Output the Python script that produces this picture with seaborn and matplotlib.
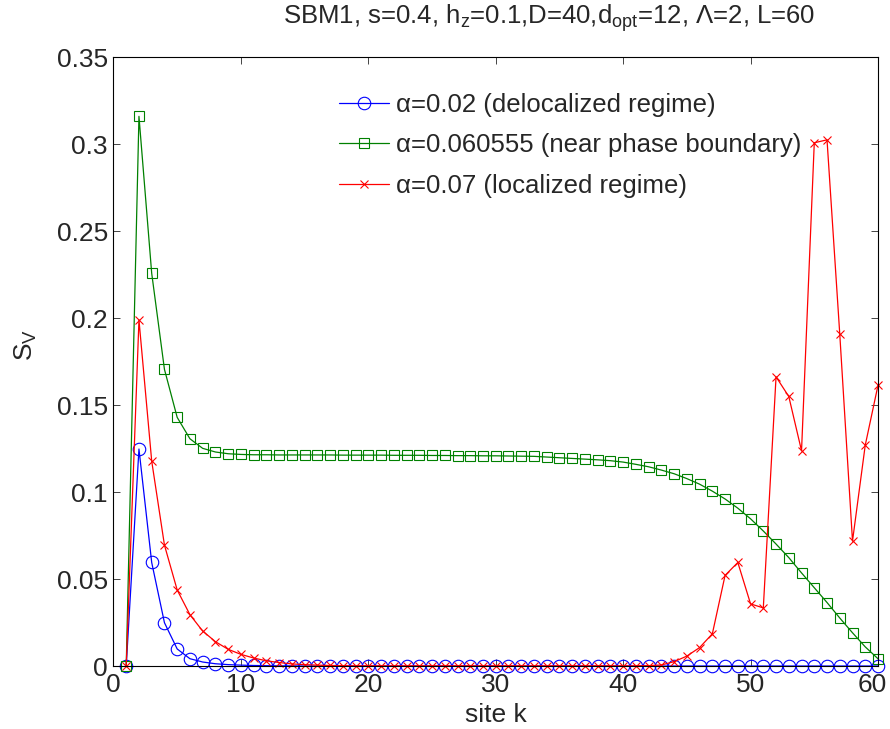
import numpy as np
import pandas as pd
import matplotlib
matplotlib.use('Agg')
import matplotlib.pyplot as plt
import matplotlib.transforms as mtransforms
import seaborn as sns
from matplotlib.ticker import FuncFormatter

# site index
sites = list(range(1, 61))

# von Neumann entropy per site
s_deloc = [0.0, 0.1247, 0.0595, 0.0249, 0.0098, 0.0042, 0.0023, 0.0013, 0.0008, 0.0005,
           0.0003, 0.0002, 0.0001, 0.0001, 0.0, 0.0, 0.0, 0.0, 0.0, 0.0,
           0.0, 0.0, 0.0, 0.0, 0.0, 0.0, 0.0, 0.0, 0.0, 0.0,
           0.0, 0.0, 0.0, 0.0, 0.0, 0.0, 0.0, 0.0, 0.0, 0.0,
           0.0, 0.0, 0.0, 0.0, 0.0, 0.0, 0.0, 0.0, 0.0, 0.0,
           0.0, 0.0, 0.0, 0.0, 0.0, 0.0, 0.0, 0.0, 0.0, 0.0]
s_boundary = [0.0, 0.3159, 0.2257, 0.1705, 0.1429, 0.1306, 0.1251, 0.1230, 0.1220, 0.1216,
              0.1214, 0.1214, 0.1213, 0.1213, 0.1213, 0.1213, 0.1213, 0.1212, 0.1212, 0.1212,
              0.1212, 0.1211, 0.1211, 0.1211, 0.1210, 0.1210, 0.1209, 0.1209, 0.1208, 0.1208,
              0.1207, 0.1206, 0.1205, 0.1201, 0.1197, 0.1193, 0.1189, 0.1185, 0.1180, 0.1172,
              0.1159, 0.1145, 0.1126, 0.1105, 0.1077, 0.1045, 0.1005, 0.0960, 0.0907, 0.0846,
              0.0776, 0.0701, 0.0623, 0.0535, 0.0450, 0.0365, 0.0276, 0.0191, 0.0110, 0.0042]
s_loc = [0.0, 0.1989, 0.1178, 0.0695, 0.0437, 0.0295, 0.0201, 0.0140, 0.0096, 0.0067,
         0.0046, 0.0030, 0.0020, 0.0012, 0.0008, 0.0005, 0.0003, 0.0002, 0.0001, 0.0001,
         0.0001, 0.0001, 0.0001, 0.0001, 0.0001, 0.0001, 0.0001, 0.0001, 0.0001, 0.0001,
         0.0001, 0.0001, 0.0001, 0.0001, 0.0001, 0.0001, 0.0001, 0.0001, 0.0001, 0.0001,
         0.0001, 0.0002, 0.0006, 0.0025, 0.0057, 0.0106, 0.0185, 0.0521, 0.0595, 0.0357,
         0.0334, 0.1662, 0.1549, 0.1237, 0.3007, 0.3024, 0.1908, 0.0718, 0.1269, 0.1613]

labels = ['α=0.02 (delocalized regime)',
          'α=0.060555 (near phase boundary)',
          'α=0.07 (localized regime)']

sns.set_style('ticks')
plt.rcParams['font.family'] = ['Liberation Sans', 'DejaVu Sans']
plt.rcParams['mathtext.fontset'] = 'custom'
plt.rcParams['mathtext.rm'] = 'Liberation Sans'
plt.rcParams['mathtext.it'] = 'Liberation Sans'
plt.rcParams['xtick.direction'] = 'in'
plt.rcParams['ytick.direction'] = 'in'

fig = plt.figure(figsize=(8.9, 7.29), dpi=100)
ax = fig.add_axes([0.1275, 0.0864, 0.859, 0.8354])

df = pd.DataFrame({'k': sites, 'deloc': s_deloc, 'boundary': s_boundary, 'loc': s_loc})

sns.lineplot(data=df, x='k', y='deloc', ax=ax, color='#0000ff', lw=0.9,
             marker='o', markersize=9, markerfacecolor='none', markeredgecolor='#0000ff',
             markeredgewidth=0.8, label=labels[0], clip_on=False)
sns.lineplot(data=df, x='k', y='boundary', ax=ax, color='#008000', lw=0.9,
             marker='s', markersize=7, markerfacecolor='none', markeredgecolor='#008000',
             markeredgewidth=0.8, label=labels[1], clip_on=False)
sns.lineplot(data=df, x='k', y='loc', ax=ax, color='#ff0000', lw=0.9,
             marker='x', markersize=6, markeredgecolor='#ff0000',
             markeredgewidth=0.8, label=labels[2], clip_on=False)

ax.set_xlim(0, 60)
ax.set_ylim(0, 0.35)
ax.set_xticks(range(0, 61, 10))
ax.set_yticks(np.arange(0, 0.351, 0.05))
ax.yaxis.set_major_formatter(FuncFormatter(lambda v, p: f'{v:g}'))
ax.tick_params(axis='both', labelsize=19, length=5, width=0.6, top=True, right=True)
ax.tick_params(axis='x', pad=5)
ax.tick_params(axis='y', pad=4)
for sp in ax.spines.values():
    sp.set_visible(True)
    sp.set_linewidth(0.8)
    sp.set_color('black')

# nudge the last x tick label so it stays inside the canvas
last = ax.xaxis.get_major_ticks()[-1].label1
last.set_transform(last.get_transform() +
                   mtransforms.ScaledTranslation(-4 / 72, 0, fig.dpi_scale_trans))

ax.set_xlabel('site k', fontsize=19, labelpad=4)
ax.set_ylabel('S$_V$', fontsize=19)
ax.yaxis.set_label_coords(-0.098, 0.527)
fig.text(0.617, 0.967, 'SBM1, s=0.4, h$_z$=0.1,D=40,d$_{opt}$=12, $\\Lambda$=2, L=60',
         ha='center', va='baseline', fontsize=18.5)

ax.legend(loc='upper left', bbox_to_anchor=(0.381, 0.873), bbox_transform=fig.transFigure,
          frameon=False, fontsize=18.5, handlelength=1.95, handletextpad=0.27,
          labelspacing=0.65, borderpad=0, borderaxespad=0)

fig.savefig('out.png', dpi=100)
